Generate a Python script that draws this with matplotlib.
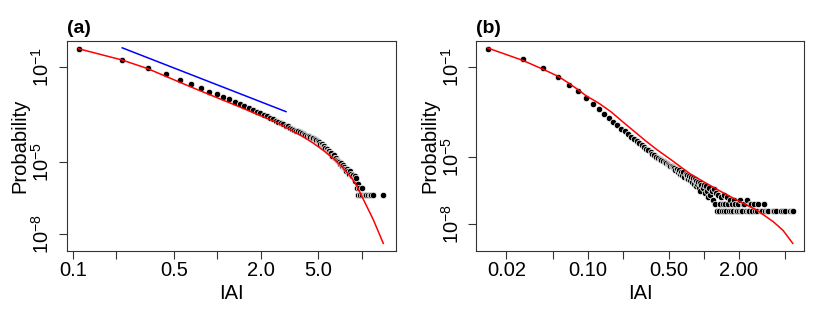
import numpy as np
import matplotlib.pyplot as plt

plt.rcParams['font.family'] = ['Liberation Sans', 'DejaVu Sans']
plt.rcParams['mathtext.fontset'] = 'custom'
plt.rcParams['mathtext.rm'] = 'Liberation Sans'
plt.rcParams['mathtext.it'] = 'Liberation Sans:italic'
plt.rcParams['mathtext.bf'] = 'Liberation Sans:bold'

# ---- panel (a): bins of width 0.11 ----
a_width = 0.11
a_bin = [1, 2, 3, 4, 5, 6, 7, 8, 9, 10, 11, 12, 13, 14, 15, 16, 17, 18, 19, 20,
         21, 22, 23, 24, 25, 26, 27, 28, 29, 30, 31, 32, 33, 34, 35, 36, 37, 38, 39, 40,
         41, 42, 43, 44, 45, 46, 47, 48, 49, 50, 51, 52, 53, 54, 55, 56, 57, 58, 59, 60,
         61, 62, 63, 64, 65, 66, 67, 68, 69, 70, 71, 72, 73, 74, 75, 76, 77, 78, 79, 80,
         81, 82, 83, 84, 85, 86, 87, 88, 89, 91, 92, 94, 96, 98, 101, 104, 106, 109, 127]
a_log10p = [-0.25, -0.72, -1.05, -1.32, -1.57, -1.73, -1.91, -2.05, -2.15, -2.27,
            -2.36, -2.46, -2.55, -2.63, -2.72, -2.80, -2.88, -2.95, -3.02, -3.08,
            -3.14, -3.20, -3.26, -3.31, -3.36, -3.41, -3.46, -3.50, -3.55, -3.59,
            -3.63, -3.67, -3.70, -3.74, -3.78, -3.82, -3.85, -3.88, -3.91, -3.94,
            -3.97, -4.00, -4.03, -4.07, -4.12, -4.16, -4.22, -4.24, -4.32, -4.33,
            -4.40, -4.43, -4.52, -4.53, -4.61, -4.63, -4.72, -4.70, -4.83, -4.80,
            -4.92, -4.95, -4.98, -5.07, -5.03, -5.15, -5.12, -5.22, -5.19, -5.29,
            -5.37, -5.29, -5.37, -5.47, -5.37, -5.52, -5.47, -5.59, -5.52, -5.67,
            -5.59, -5.77, -5.67, -6.07, -5.89, -6.37, -6.07, -6.37, -6.37, -6.07,
            -6.37, -6.37, -6.37, -6.37, -6.37, -6.37, -6.37, -6.37, -6.37]
a_fit_log10x = [-0.959, -0.658, -0.482, -0.357, -0.181, 0.0, 0.15, 0.273, 0.40, 0.50,
                0.60, 0.665, 0.734, 0.80, 0.868, 0.93, 0.965, 1.011, 1.08, 1.149]
a_fit_log10p = [-0.25, -0.72, -1.08, -1.40, -1.85, -2.30, -2.67, -2.98, -3.30, -3.62,
                -3.95, -4.20, -4.50, -4.82, -5.22, -5.65, -5.98, -6.55, -7.40, -8.39]
a_ref_x = [0.22, 2.99]
a_ref_log10p = [-0.21, -2.88]

# ---- panel (b): bins of width 0.0139 ----
b_width = 0.0139
b_bin = [1, 2, 3, 4, 5, 6, 7, 8, 9, 10, 11, 12, 13, 14, 15, 16, 17, 18, 19, 20,
         21, 22, 23, 24, 25, 26, 27, 28, 29, 30, 31, 32, 33, 34, 35, 36, 37, 38, 39, 40,
         41, 42, 43, 44, 45, 46, 47, 48, 49, 50, 51, 52, 53, 54, 55, 56, 57, 58, 59, 60,
         61, 62, 63, 64, 65, 66, 67, 68, 70, 72, 74, 75, 77, 78, 80, 82, 84, 86, 88, 90,
         92, 94, 96, 97, 99, 101, 103, 104, 107, 108, 110, 112, 114, 116, 118, 121, 123, 125, 128, 130,
         133, 135, 138, 140, 143, 146, 149, 152, 156, 160, 164, 168, 172, 176, 180, 184, 188, 193, 199, 205,
         212, 222, 228, 235, 243, 250, 258, 280, 290, 300, 330, 345, 360, 395, 408, 420]
b_log10p = [-0.20, -0.66, -1.06, -1.44, -1.80, -2.09, -2.39, -2.66, -2.90, -3.10,
            -3.28, -3.45, -3.60, -3.75, -3.88, -4.00, -4.11, -4.21, -4.30, -4.38,
            -4.47, -4.56, -4.64, -4.72, -4.80, -4.87, -4.94, -5.00, -5.05, -5.10,
            -5.15, -5.20, -5.23, -5.28, -5.31, -5.36, -5.40, -5.43, -5.47, -5.50,
            -5.60, -5.55, -5.68, -5.60, -5.75, -5.66, -5.80, -5.70, -5.88, -5.75,
            -5.96, -5.81, -5.98, -5.86, -6.05, -5.90, -6.12, -5.95, -6.20, -6.00,
            -6.30, -6.07, -6.20, -6.12, -6.40, -6.15, -6.51, -6.26, -6.41, -6.26,
            -6.63, -6.30, -6.51, -6.81, -6.41, -6.71, -6.51, -6.93, -6.45, -7.11,
            -6.63, -7.41, -6.71, -7.41, -7.11, -6.81, -7.41, -7.11, -6.71, -7.41,
            -7.11, -7.41, -6.81, -7.11, -7.41, -6.93, -7.41, -7.11, -7.41, -6.93,
            -7.11, -7.41, -7.41, -7.11, -7.41, -6.93, -7.41, -7.41, -7.11, -7.11,
            -7.41, -6.93, -7.41, -7.41, -7.11, -7.11, -7.41, -7.11, -7.41, -7.41,
            -7.11, -7.41, -7.41, -7.11, -7.41, -7.41, -7.41, -7.41, -7.41, -7.41,
            -7.41, -7.41, -7.41, -7.41, -7.41, -7.41]
b_fit_log10x = [-1.859, -1.558, -1.381, -1.252, -1.16, -1.08, -1.011, -0.95, -0.893, -0.80,
                -0.693, -0.60, -0.50, -0.406, -0.30, -0.20, -0.119, 0.0, 0.165, 0.31,
                0.454, 0.597, 0.68, 0.764]
b_fit_log10p = [-0.17, -0.72, -1.12, -1.43, -1.74, -2.03, -2.30, -2.48, -2.66, -3.00,
                -3.47, -3.87, -4.30, -4.68, -5.07, -5.45, -5.76, -6.12, -6.60, -7.00,
                -7.37, -7.89, -8.27, -8.85]

a_xticks = [0.1, 0.2, 0.5, 1.0, 2.0, 5.0, 10.0]
a_xlabels = ['0.1', '', '0.5', '', '2.0', '5.0', '']
b_xticks = [0.02, 0.05, 0.1, 0.2, 0.5, 1.0, 2.0, 5.0]
b_xlabels = ['0.02', '', '0.10', '', '0.50', '', '2.00', '']
yticks = [1e-1, 1e-5, 1e-8]
ylabels = [r'$10^{-1}$', r'$10^{-5}$', r'$10^{-8}$']


def draw_panel(ax, x, p, fit_x, fit_p, xticks, xlabels, xlim, ylim, tag):
    ax.plot(x, p, 'o', ls='none', ms=4.6, mfc='black', mec='white', mew=0.5)
    ax.plot(fit_x, fit_p, color='red', lw=1.1)
    ax.set_xscale('log')
    ax.set_yscale('log')
    ax.set_xlim(10 ** xlim[0], 10 ** xlim[1])
    ax.set_ylim(10 ** ylim[0], 10 ** ylim[1])
    ax.set_xticks(xticks, xlabels)
    ax.set_yticks(yticks, ylabels, rotation=90, va='center')
    ax.minorticks_off()
    ax.tick_params(axis='both', direction='out', length=6, width=0.8, labelsize=14.5,
                   color='#333333')
    ax.tick_params(axis='x', pad=1)
    ax.tick_params(axis='y', pad=4)
    for s in ax.spines.values():
        s.set_linewidth(0.8)
        s.set_color('#333333')
    ax.set_xlabel('IAI', fontsize=14.5, labelpad=3)
    ax.set_ylabel('Probability', fontsize=14.5, labelpad=1)
    ax.text(0.0, 1.058, tag, transform=ax.transAxes, fontsize=14,
            fontweight='bold', va='center', ha='left')


fig = plt.figure(figsize=(8.18, 3.18), dpi=100)
ax_a = fig.add_axes([0.0819, 0.2107, 0.4022, 0.6603])
ax_b = fig.add_axes([0.5823, 0.2107, 0.4006, 0.6603])

a_x = np.array(a_bin) * a_width
b_x = np.array(b_bin) * b_width

draw_panel(ax_a, a_x, 10.0 ** np.array(a_log10p),
           10.0 ** np.array(a_fit_log10x), 10.0 ** np.array(a_fit_log10p),
           a_xticks, a_xlabels, (-1.04, 1.237), (-8.71, 0.075), '(a)')
ax_a.plot(a_ref_x, 10.0 ** np.array(a_ref_log10p), color='blue', lw=1.1)

draw_panel(ax_b, b_x, 10.0 ** np.array(b_log10p),
           10.0 ** np.array(b_fit_log10x), 10.0 ** np.array(b_fit_log10p),
           b_xticks, b_xlabels, (-1.957, 0.861), (-9.19, 0.14), '(b)')

fig.savefig('out.png', dpi=100)
